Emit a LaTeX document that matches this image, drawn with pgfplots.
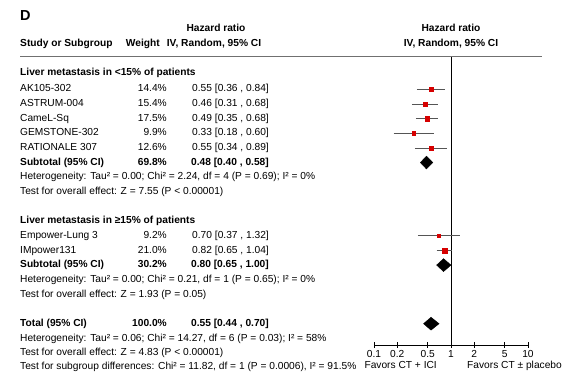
\documentclass[border=0pt]{standalone}
\usepackage{fontspec}
\setmainfont{Liberation Sans}
\usepackage{pgfplots}
\pgfplotsset{compat=1.18}
\definecolor{sqred}{HTML}{D60000}
\definecolor{cigray}{HTML}{555555}
\definecolor{hlgray}{HTML}{707070}
\newcommand{\fs}{\fontsize{10.2pt}{12pt}\selectfont}
\begin{document}
\begin{tikzpicture}[font=\fs]
\path[use as bounding box] (0pt,0pt) rectangle (574pt,-379pt);
\begin{axis}[
  at={(374pt,-345pt)}, anchor=south west,
  scale only axis, width=154pt, height=288pt,
  xmode=log, log basis x=10,
  xmin=0.1, xmax=10, ymin=-17.454, ymax=2.205,
  axis x line*=bottom, axis y line=none,
  axis line style={-, black, line width=0.8pt},
  xtick={0.1,0.2,0.5,1,2,5,10},
  xticklabels={0.1,0.2,0.5,1,2,5,10},
  minor xtick={},
  ytick=\empty,
  tick align=center, major tick length=6pt,
  tick style={black, line width=0.8pt},
  xticklabel style={font=\fs, anchor=base, yshift=-9.2pt},
  clip=false,
]
% line of no effect
\addplot[black, line width=0.8pt] coordinates {(1,2.205) (1,-17.454)};
% confidence intervals
\addplot[cigray, line width=0.8pt] coordinates {(0.36,0) (0.84,0)};
\addplot[cigray, line width=0.8pt] coordinates {(0.31,-1) (0.68,-1)};
\addplot[cigray, line width=0.8pt] coordinates {(0.35,-2) (0.68,-2)};
\addplot[cigray, line width=0.8pt] coordinates {(0.18,-3) (0.60,-3)};
\addplot[cigray, line width=0.8pt] coordinates {(0.34,-4) (0.89,-4)};
\addplot[cigray, line width=0.8pt] coordinates {(0.37,-10) (1.32,-10)};
\addplot[cigray, line width=0.8pt] coordinates {(0.65,-11) (1.04,-11)};
% point estimates (size ~ weight)
\addplot[only marks, mark=square*, mark size=2.0pt, sqred, mark options={draw=sqred, fill=sqred}] coordinates {(0.55,0)};
\addplot[only marks, mark=square*, mark size=2.07pt, sqred, mark options={draw=sqred, fill=sqred}] coordinates {(0.46,-1)};
\addplot[only marks, mark=square*, mark size=2.2pt, sqred, mark options={draw=sqred, fill=sqred}] coordinates {(0.49,-2)};
\addplot[only marks, mark=square*, mark size=1.66pt, sqred, mark options={draw=sqred, fill=sqred}] coordinates {(0.33,-3)};
\addplot[only marks, mark=square*, mark size=1.87pt, sqred, mark options={draw=sqred, fill=sqred}] coordinates {(0.55,-4)};
\addplot[only marks, mark=square*, mark size=1.6pt, sqred, mark options={draw=sqred, fill=sqred}] coordinates {(0.70,-10)};
\addplot[only marks, mark=square*, mark size=2.42pt, sqred, mark options={draw=sqred, fill=sqred}] coordinates {(0.82,-11)};
% pooled diamonds
\addplot[fill=black, draw=black] coordinates {(0.40,-5) (0.48,-4.56) (0.58,-5) (0.48,-5.44)} -- cycle;
\addplot[fill=black, draw=black] coordinates {(0.65,-12) (0.80,-11.56) (1.00,-12) (0.80,-12.44)} -- cycle;
\addplot[fill=black, draw=black] coordinates {(0.44,-16) (0.55,-15.56) (0.70,-16) (0.55,-16.44)} -- cycle;
\end{axis}
\begin{scope}[x=1pt, y=-1pt, every node/.style={inner sep=0pt}]
\node[anchor=base west, font=\fontsize{14.5pt}{16pt}\selectfont\bfseries] at (20,20.5) {D};
\node[anchor=base, font=\fs\bfseries] at (216,31.5) {Hazard ratio};
\node[anchor=base west, font=\fs\bfseries] at (20,46.5) {Study or Subgroup};
\node[anchor=base east, font=\fs\bfseries] at (160,46.5) {Weight};
\node[anchor=base, font=\fs\bfseries] at (214,46.5) {IV, Random, 95\% CI};
\node[anchor=base, font=\fs\bfseries] at (451,31.5) {Hazard ratio};
\node[anchor=base, font=\fs\bfseries] at (451,46.5) {IV, Random, 95\% CI};
\draw[hlgray, line width=1pt] (20,57) -- (542,57);
% subgroup 1
\node[anchor=base west, font=\fs\bfseries] at (20,76) {Liver metastasis in <15\% of patients};
\node[anchor=base west] at (20,92) {AK105-302};
\node[anchor=base east] at (167,92) {14.4\%};
\node[anchor=base east] at (269,92) {0.55 [0.36 , 0.84]};
\node[anchor=base west] at (20,106.65) {ASTRUM-004};
\node[anchor=base east] at (167,106.65) {15.4\%};
\node[anchor=base east] at (269,106.65) {0.46 [0.31 , 0.68]};
\node[anchor=base west] at (20,121.3) {CameL-Sq};
\node[anchor=base east] at (167,121.3) {17.5\%};
\node[anchor=base east] at (269,121.3) {0.49 [0.35 , 0.68]};
\node[anchor=base west] at (20,135.95) {GEMSTONE-302};
\node[anchor=base east] at (167,135.95) {9.9\%};
\node[anchor=base east] at (269,135.95) {0.33 [0.18 , 0.60]};
\node[anchor=base west] at (20,150.6) {RATIONALE 307};
\node[anchor=base east] at (167,150.6) {12.6\%};
\node[anchor=base east] at (269,150.6) {0.55 [0.34 , 0.89]};
\node[anchor=base west, font=\fs\bfseries] at (20,165.25) {Subtotal (95\% CI)};
\node[anchor=base east, font=\fs\bfseries] at (167,165.25) {69.8\%};
\node[anchor=base east, font=\fs\bfseries] at (269,165.25) {0.48 [0.40 , 0.58]};
\node[anchor=base west] at (20,179.9) {Heterogeneity: Tau² = 0.00; Chi² = 2.24, df = 4 (P = 0.69); I² = 0\%};
\node[anchor=base west] at (20,194.55) {Test for overall effect: Z = 7.55 (P < 0.00001)};
% subgroup 2
\node[anchor=base west, font=\fs\bfseries] at (20,223.85) {Liver metastasis in ≥15\% of patients};
\node[anchor=base west] at (20,238.5) {Empower-Lung 3};
\node[anchor=base east] at (167,238.5) {9.2\%};
\node[anchor=base east] at (269,238.5) {0.70 [0.37 , 1.32]};
\node[anchor=base west] at (20,253.15) {IMpower131};
\node[anchor=base east] at (167,253.15) {21.0\%};
\node[anchor=base east] at (269,253.15) {0.82 [0.65 , 1.04]};
\node[anchor=base west, font=\fs\bfseries] at (20,267.8) {Subtotal (95\% CI)};
\node[anchor=base east, font=\fs\bfseries] at (167,267.8) {30.2\%};
\node[anchor=base east, font=\fs\bfseries] at (269,267.8) {0.80 [0.65 , 1.00]};
\node[anchor=base west] at (20,282.45) {Heterogeneity: Tau² = 0.00; Chi² = 0.21, df = 1 (P = 0.65); I² = 0\%};
\node[anchor=base west] at (20,297.1) {Test for overall effect: Z = 1.93 (P = 0.05)};
% total
\node[anchor=base west, font=\fs\bfseries] at (20,326.4) {Total (95\% CI)};
\node[anchor=base east, font=\fs\bfseries] at (167,326.4) {100.0\%};
\node[anchor=base east, font=\fs\bfseries] at (269,326.4) {0.55 [0.44 , 0.70]};
\node[anchor=base west] at (20,341.05) {Heterogeneity: Tau² = 0.06; Chi² = 14.27, df = 6 (P = 0.03); I² = 58\%};
\node[anchor=base west] at (20,355.7) {Test for overall effect: Z = 4.83 (P < 0.00001)};
\node[anchor=base west] at (20,369.5) {Test for subgroup differences: Chi² = 11.82, df = 1 (P = 0.0006), I² = 91.5\%};
\node[anchor=base east] at (437,369) {Favors CT + ICI};
\node[anchor=base west] at (467,369) {Favors CT ± placebo};
\end{scope}
\end{tikzpicture}
\end{document}
